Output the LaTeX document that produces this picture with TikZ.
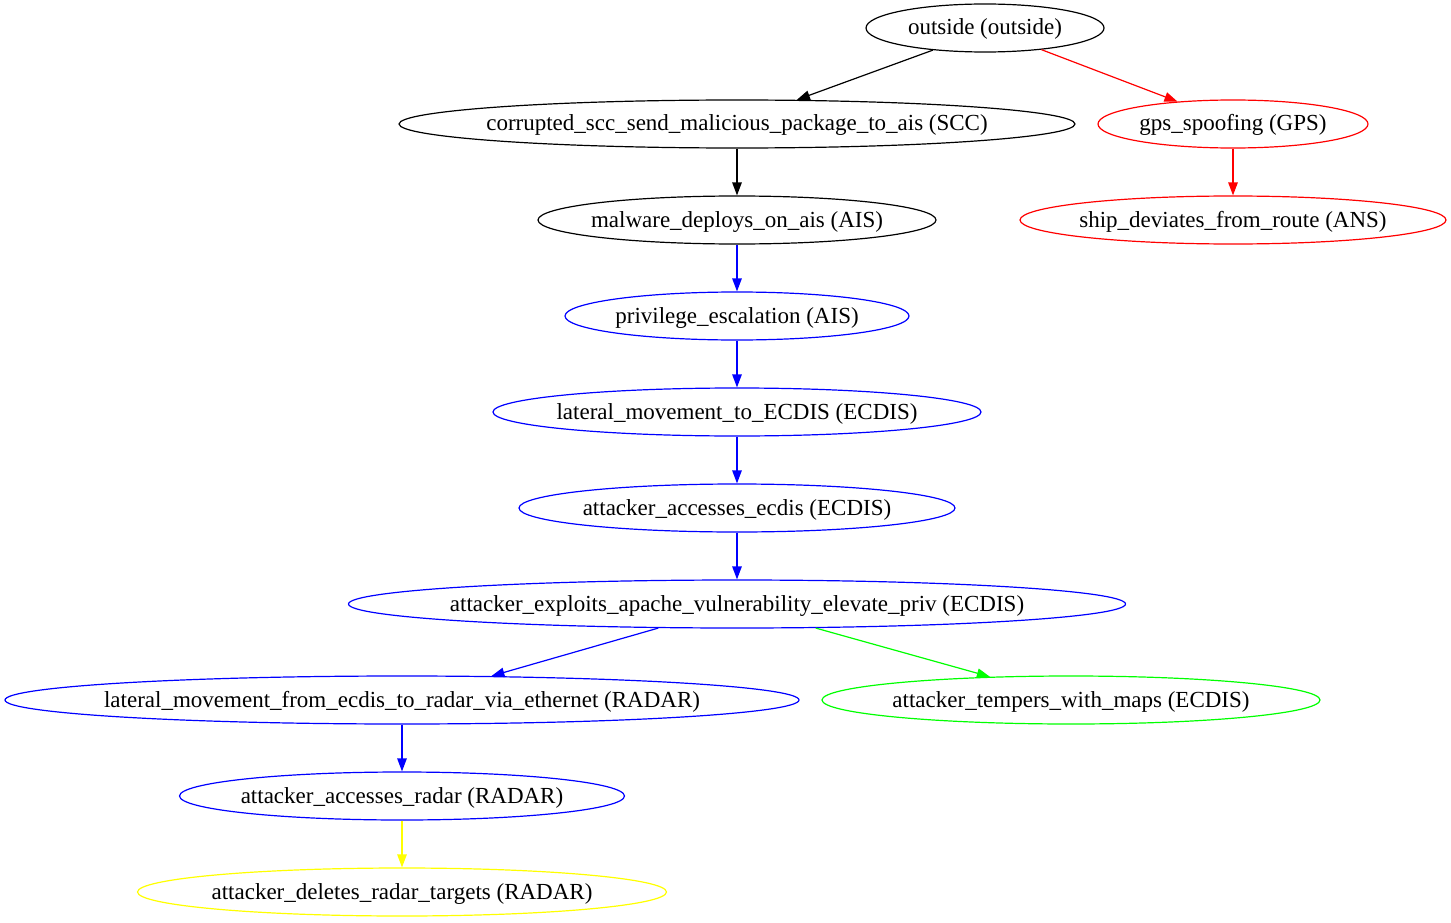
\documentclass[tikz,border=0pt]{standalone}
\usepackage{fontspec}
\setmainfont{Liberation Serif}
\usetikzlibrary{shapes.geometric,arrows.meta}
\definecolor{gvgreen}{RGB}{0,255,0}
\definecolor{gvyellow}{RGB}{255,255,0}
\definecolor{gvblue}{RGB}{0,0,255}
\definecolor{gvred}{RGB}{255,0,0}
\begin{document}
\begin{tikzpicture}[x=1pt,y=-1pt,
  gv/.style={ellipse,draw,text=black,line width=1.2pt,inner sep=0pt,minimum height=48pt,
    text height=16pt,text depth=2pt,
    font=\fontsize{23}{26}\selectfont},
  edge/.style={line width=1.2pt,-{Triangle[length=13pt,width=9.5pt]}}]
\useasboundingbox (0,0) rectangle (1451,923);
\node[gv,minimum width=238pt] (out) at (985,28) {\makebox[0pt]{outside (outside)}};
\node[gv,minimum width=676pt] (scc) at (737,124) {\makebox[0pt]{corrupted\_scc\_send\_malicious\_package\_to\_ais (SCC)}};
\node[gv,draw=gvred,minimum width=270pt] (gps) at (1233,124) {\makebox[0pt]{gps\_spoofing (GPS)}};
\node[gv,minimum width=398pt] (mal) at (737,220) {\makebox[0pt]{malware\_deploys\_on\_ais (AIS)}};
\node[gv,draw=gvred,minimum width=426pt] (ship) at (1233,220) {\makebox[0pt]{ship\_deviates\_from\_route (ANS)}};
\node[gv,draw=gvblue,minimum width=344pt] (priv) at (737,316) {\makebox[0pt]{privilege\_escalation (AIS)}};
\node[gv,draw=gvblue,minimum width=488pt] (lat) at (737,412) {\makebox[0pt]{lateral\_movement\_to\_ECDIS (ECDIS)}};
\node[gv,draw=gvblue,minimum width=436pt] (acc) at (737,508) {\makebox[0pt]{attacker\_accesses\_ecdis (ECDIS)}};
\node[gv,draw=gvblue,minimum width=777pt] (expl) at (737,604) {\makebox[0pt]{attacker\_exploits\_apache\_vulnerability\_elevate\_priv (ECDIS)}};
\node[gv,draw=gvblue,minimum width=794pt] (latr) at (402,700) {\makebox[0pt]{lateral\_movement\_from\_ecdis\_to\_radar\_via\_ethernet (RADAR)}};
\node[gv,draw=gvgreen,minimum width=498pt] (temp) at (1071,700) {\makebox[0pt]{attacker\_tempers\_with\_maps (ECDIS)}};
\node[gv,draw=gvblue,minimum width=445pt] (accr) at (402,796) {\makebox[0pt]{attacker\_accesses\_radar (RADAR)}};
\node[gv,draw=gvyellow,minimum width=529pt] (del) at (402,892) {\makebox[0pt]{attacker\_deletes\_radar\_targets (RADAR)}};

\draw[edge] (out.203.5) -- (scc.22.5);
\draw[edge,gvred] (out.-21.8) -- (gps.158.2);
\draw[edge] (scc) -- (mal);
\draw[edge,gvred] (gps) -- (ship);
\draw[edge,gvblue] (mal) -- (priv);
\draw[edge,gvblue] (priv) -- (lat);
\draw[edge,gvblue] (lat) -- (acc);
\draw[edge,gvblue] (acc) -- (expl);
\draw[edge,gvblue] (expl.197.4) -- (latr.15.4);
\draw[edge,gvgreen] (expl.-17.1) -- (temp.164.2);
\draw[edge,gvblue] (latr) -- (accr);
\draw[edge,gvyellow] (accr) -- (del);
\end{tikzpicture}
\end{document}
